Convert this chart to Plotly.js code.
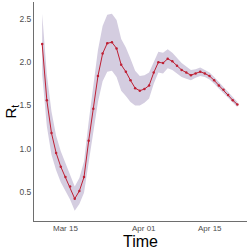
<!DOCTYPE html>
<html><head><meta charset="utf-8">
<script src="https://cdn.plot.ly/plotly-3.0.1.min.js"></script>
<style>html,body{margin:0;padding:0;background:#fff}#chart{width:249px;height:249px}</style>
</head><body><div id="chart"></div>
<script>
const startDate = '2020-03-10';
const rt = [2.21,1.56,1.18,0.95,0.79,0.67,0.56,0.42,0.51,0.67,1.09,1.46,1.84,2.10,2.22,2.23,2.16,1.97,1.89,1.79,1.70,1.67,1.69,1.73,1.88,2.00,1.99,2.04,2.01,1.96,1.91,1.88,1.85,1.87,1.89,1.87,1.84,1.79,1.73,1.68,1.62,1.56,1.51];
const rtUpper = [2.56,1.86,1.43,1.15,0.97,0.83,0.71,0.56,0.66,0.85,1.31,1.73,2.14,2.42,2.55,2.56,2.49,2.27,2.17,2.04,1.90,1.84,1.85,1.88,2.01,2.12,2.11,2.15,2.11,2.05,1.99,1.95,1.91,1.92,1.94,1.91,1.88,1.83,1.77,1.72,1.65,1.59,1.54];
const rtLower = [1.86,1.26,0.93,0.75,0.61,0.51,0.41,0.28,0.36,0.49,0.87,1.19,1.54,1.78,1.89,1.90,1.83,1.67,1.61,1.54,1.50,1.50,1.53,1.58,1.75,1.88,1.87,1.93,1.91,1.87,1.83,1.81,1.79,1.82,1.84,1.83,1.80,1.75,1.69,1.64,1.59,1.53,1.48];
const tickVals = ['2020-03-15','2020-04-01','2020-04-15'];
const tickText = ['Mar 15','Apr 01','Apr 15'];
const yTickVals = [0.5, 1.0, 1.5, 2.0, 2.5];
const yTickText = ['0.5','1.0','1.5','2.0','2.5'];

const dates = rt.map((_, i) => {
  const d = new Date(startDate + 'T00:00:00Z');
  d.setUTCDate(d.getUTCDate() + i);
  return d.toISOString().slice(0, 10);
});

const traces = [
  {x: dates, y: rtLower, type: 'scatter', mode: 'lines', line: {width: 0, color: 'rgba(0,0,0,0)'}, hoverinfo: 'skip', showlegend: false},
  {x: dates, y: rtUpper, type: 'scatter', mode: 'lines', fill: 'tonexty', fillcolor: 'rgb(212,205,224)', line: {width: 0, color: 'rgba(0,0,0,0)'}, hoverinfo: 'skip', showlegend: false},
  {x: dates, y: rt, type: 'scatter', mode: 'lines+markers', line: {color: 'rgb(190,32,52)', width: 1}, marker: {color: 'rgb(190,32,52)', size: 2.5}, showlegend: false}
];

const FONT = 'Liberation Sans, Arial, sans-serif';
const annotations = tickVals.map((v, i) => ({
  x: v, xref: 'x', y: 0, yref: 'paper', yanchor: 'top', xanchor: 'center', yshift: -1,
  text: tickText[i], showarrow: false, font: {family: FONT, size: 8, color: '#4d4d4d'}
}));
annotations.push({
  x: 0.5, xref: 'paper', y: 0, yref: 'paper', yanchor: 'top', xanchor: 'center', yshift: -10,
  text: 'Time', showarrow: false, font: {family: FONT, size: 16, color: '#000'}
});
annotations.push({
  x: 0, xref: 'paper', y: 0.5, yref: 'paper', xanchor: 'center', yanchor: 'middle', xshift: -23,
  text: 'R<sub>t</sub>', textangle: -90, showarrow: false, font: {family: FONT, size: 15, color: '#000'}
});

const layout = {
  width: 249, height: 249,
  margin: {l: 34, r: 2, t: 2, b: 28},
  paper_bgcolor: '#fff', plot_bgcolor: '#fff',
  font: {family: FONT, color: '#4d4d4d'},
  xaxis: {
    type: 'date', range: ['2020-03-08 05:45', '2020-04-23 01:30'],
    showticklabels: false, automargin: false,
    showgrid: false, zeroline: false, showline: true, linecolor: '#6e6e6e', linewidth: 1, ticks: ''
  },
  yaxis: {
    range: [0.162, 2.697], tickvals: yTickVals, ticktext: yTickText,
    automargin: false,
    showgrid: false, zeroline: false, showline: true, linecolor: '#6e6e6e', linewidth: 1,
    ticks: '', tickfont: {size: 8.5, color: '#4d4d4d'}
  },
  annotations: annotations
};

Plotly.newPlot('chart', traces, layout, {staticPlot: true, displayModeBar: false});
</script>
</body></html>
